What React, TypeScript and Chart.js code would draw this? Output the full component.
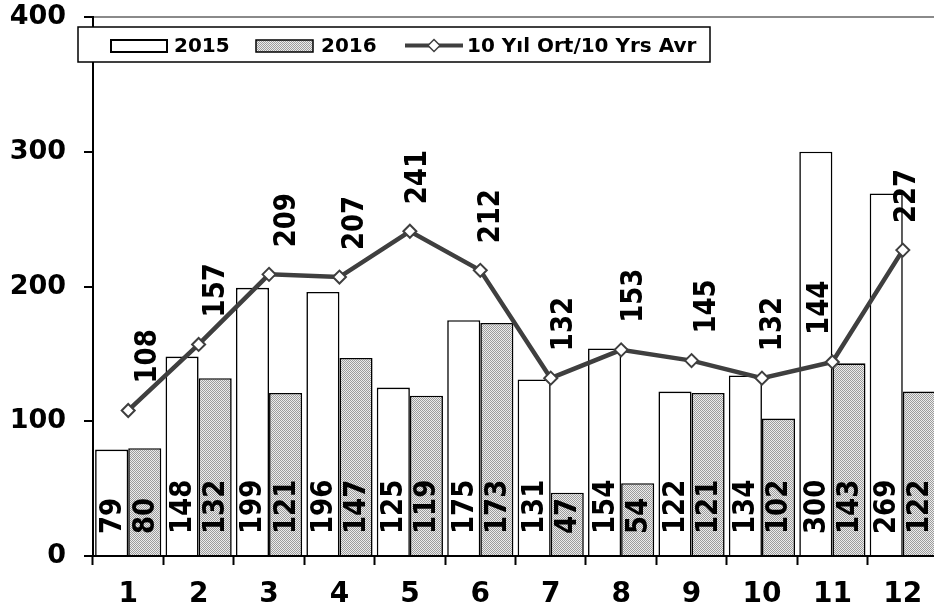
import React, { useEffect, useRef } from 'react';
import { Chart, registerables } from 'chart.js';

Chart.register(...registerables);

const categories = ['1', '2', '3', '4', '5', '6', '7', '8', '9', '10', '11', '12'];
const values2015 = [79, 148, 199, 196, 125, 175, 131, 154, 122, 134, 300, 269];
const values2016 = [80, 132, 121, 147, 119, 173, 47, 54, 121, 102, 143, 122];
const avg10 = [108, 157, 209, 207, 241, 212, 132, 153, 145, 132, 144, 227];
const seriesNames = ['2015', '2016', '10 Yıl Ort/10 Yrs Avr'];

// horizontal nudge of the average labels (style only)
const avgLabelDx = [20, 17, 18, 16, 8, 11, 13, 13, 15, 11, -12, 4];

const LINE_COLOR = '#3f3f3f';

function makePattern(): CanvasPattern | string {
  const c = document.createElement('canvas');
  c.width = 2;
  c.height = 2;
  const g = c.getContext('2d');
  if (!g) return '#c8c8c8';
  g.fillStyle = '#ececec';
  g.fillRect(0, 0, 2, 2);
  g.fillStyle = '#9c9c9c';
  g.fillRect(0, 0, 1, 1);
  g.fillRect(1, 1, 1, 1);
  const p = g.createPattern(c, 'repeat');
  return p || '#c8c8c8';
}

export default function App() {
  const ref = useRef<HTMLCanvasElement | null>(null);

  useEffect(() => {
    const canvas = ref.current;
    if (!canvas) return;
    const pattern = makePattern();

    const drawRotated = (ctx: CanvasRenderingContext2D, text: string, x: number, y: number) => {
      ctx.save();
      ctx.translate(x, y);
      ctx.rotate(-Math.PI / 2);
      ctx.scale(1, 1.18);
      ctx.fillText(text, 0, 0);
      ctx.restore();
    };

    const labelPlugin = {
      id: 'valueLabels',
      afterDatasetsDraw(chart: any) {
        const ctx = chart.ctx as CanvasRenderingContext2D;
        ctx.save();
        ctx.fillStyle = '#000';
        ctx.font = 'bold 26px "DejaVu Sans"';
        ctx.textBaseline = 'middle';
        ctx.textAlign = 'left';
        [0, 1].forEach((di) => {
          const meta = chart.getDatasetMeta(di);
          meta.data.forEach((bar: any, i: number) => {
            const v = chart.data.datasets[di].data[i];
            const { x, base } = bar.getProps(['x', 'base'], true);
            drawRotated(ctx, String(v), x + 1, base - 21);
          });
        });
        const lm = chart.getDatasetMeta(2);
        lm.data.forEach((pt: any, i: number) => {
          const v = chart.data.datasets[2].data[i];
          const { x, y } = pt.getProps(['x', 'y'], true);
          drawRotated(ctx, String(v), x + avgLabelDx[i], y - 27);
        });
        ctx.restore();
      },
      afterDraw(chart: any) {
        const ctx = chart.ctx as CanvasRenderingContext2D;
        ctx.save();
        // legend box
        ctx.fillStyle = '#fff';
        ctx.fillRect(78, 27, 632, 35);
        ctx.strokeStyle = '#000';
        ctx.lineWidth = 1.5;
        ctx.strokeRect(78, 27, 632, 35);
        const cy = 45.5;
        // 2015
        ctx.fillStyle = '#fff';
        ctx.fillRect(111, 40, 56, 12);
        ctx.lineWidth = 2;
        ctx.strokeRect(111, 40, 56, 12);
        // 2016
        ctx.fillStyle = pattern as any;
        ctx.fillRect(256, 40, 57, 12);
        ctx.lineWidth = 1.5;
        ctx.strokeRect(256, 40, 57, 12);
        // line
        ctx.strokeStyle = LINE_COLOR;
        ctx.lineWidth = 4;
        ctx.beginPath();
        ctx.moveTo(405, cy);
        ctx.lineTo(463, cy);
        ctx.stroke();
        ctx.fillStyle = '#fff';
        ctx.lineWidth = 1.5;
        ctx.beginPath();
        ctx.moveTo(434, cy - 6);
        ctx.lineTo(440, cy);
        ctx.lineTo(434, cy + 6);
        ctx.lineTo(428, cy);
        ctx.closePath();
        ctx.fill();
        ctx.stroke();
        // texts
        ctx.fillStyle = '#000';
        ctx.font = 'bold 20px "DejaVu Sans"';
        ctx.textBaseline = 'middle';
        ctx.textAlign = 'left';
        ctx.fillText(seriesNames[0], 174, cy + 1);
        ctx.fillText(seriesNames[1], 321, cy + 1);
        ctx.fillText(seriesNames[2], 467, cy + 1);
        ctx.restore();
      },
    };

    const chart = new Chart(canvas, {
      type: 'bar',
      data: {
        labels: categories,
        datasets: [
          {
            type: 'bar',
            label: seriesNames[0],
            data: values2015,
            backgroundColor: '#ffffff',
            borderColor: '#000000',
            borderWidth: 1.6,
            barPercentage: 1,
            categoryPercentage: 0.94,
            order: 2,
          },
          {
            type: 'bar',
            label: seriesNames[1],
            data: values2016,
            backgroundColor: pattern as any,
            borderColor: '#000000',
            borderWidth: 1.6,
            barPercentage: 1,
            categoryPercentage: 0.94,
            order: 2,
          },
          {
            type: 'line',
            label: seriesNames[2],
            data: avg10,
            borderColor: LINE_COLOR,
            borderWidth: 4.5,
            pointStyle: 'rectRot',
            pointRadius: 6.5,
            pointBackgroundColor: '#ffffff',
            pointBorderColor: LINE_COLOR,
            pointBorderWidth: 2,
            tension: 0,
            order: 1,
          } as any,
        ],
      },
      options: {
        responsive: false,
        animation: false,
        devicePixelRatio: 1,
        layout: { padding: { top: 17, left: 0, right: 10, bottom: 0 } },
        plugins: {
          legend: { display: false },
          tooltip: { enabled: false },
        },
        scales: {
          x: {
            offset: true,
            grid: {
              offset: true,
              drawOnChartArea: false,
              drawTicks: true,
              tickLength: 9,
              tickWidth: 2,
              tickColor: '#000',
              color: '#000',
            },
            border: { display: true, color: '#000', width: 2 },
            ticks: {
              color: '#000',
              padding: 13,
              font: { family: '"DejaVu Sans"', weight: 'bold', size: 28 },
              maxRotation: 0,
              autoSkip: false,
            },
            afterFit: (s: any) => {
              s.height = 57;
              s.paddingLeft = 0;
              s.paddingRight = 0;
            },
          },
          y: {
            min: 0,
            max: 400,
            ticks: {
              stepSize: 100,
              color: '#000',
              padding: 18,
              font: { family: '"DejaVu Sans"', weight: 'bold', size: 27 },
            },
            grid: {
              color: (c: any) => (c.tick && c.tick.value === 400 ? '#8a8a8a' : 'transparent'),
              lineWidth: 2,
              drawTicks: true,
              tickLength: 9,
              tickWidth: 2,
              tickColor: '#000',
            },
            border: { display: true, color: '#000', width: 2 },
            afterFit: (s: any) => {
              s.width = 93;
              s.paddingTop = 0;
              s.paddingBottom = 0;
            },
          },
        },
      },
      plugins: [labelPlugin],
    } as any);

    return () => chart.destroy();
  }, []);

  return (
    <div
      style={{
        position: 'fixed',
        left: 0,
        top: 0,
        width: 934,
        height: 613,
        overflow: 'hidden',
        background: '#fff',
      }}
    >
      <canvas ref={ref} width={948} height={613} style={{ display: 'block' }} />
    </div>
  );
}
